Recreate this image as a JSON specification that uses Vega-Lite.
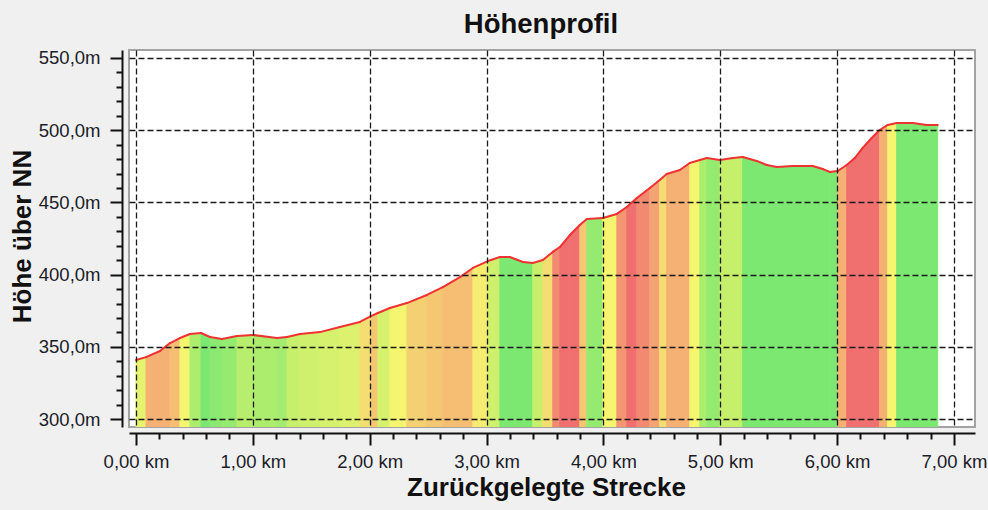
{
 "$schema": "https://vega.github.io/schema/vega-lite/v6.json",
 "width": 846, "height": 377,
 "autosize": {"type": "none"},
 "padding": {"left": 129, "top": 50, "right": 13, "bottom": 83},
 "background": "#f0f0f0",
 "title": {"text": "Höhenprofil", "anchor": "middle", "frame": "group", "font": "Liberation Sans", "fontSize": 27.5, "fontWeight": "bold", "color": "#111111", "dx": -11, "offset": 10},
 "config": {"view": {"fill": "white", "stroke": "#a3a3a3", "strokeWidth": 2}, "font": "Liberation Sans"},
 "data": {"values": [
  {"abschnitt":0,"km":0.000,"hoehe":340.9,"steigung":2.5},{"abschnitt":0,"km":0.086,"hoehe":342.9,"steigung":2.5},
  {"abschnitt":1,"km":0.086,"hoehe":342.9,"steigung":4.5},{"abschnitt":1,"km":0.205,"hoehe":347.1,"steigung":4.5},
  {"abschnitt":2,"km":0.205,"hoehe":347.1,"steigung":4.5},{"abschnitt":2,"km":0.291,"hoehe":352.6,"steigung":4.5},
  {"abschnitt":3,"km":0.291,"hoehe":352.6,"steigung":4.2},{"abschnitt":3,"km":0.376,"hoehe":356.1,"steigung":4.2},
  {"abschnitt":4,"km":0.376,"hoehe":356.1,"steigung":3.0},{"abschnitt":4,"km":0.462,"hoehe":358.9,"steigung":3.0},
  {"abschnitt":5,"km":0.462,"hoehe":358.9,"steigung":1.0},{"abschnitt":5,"km":0.556,"hoehe":359.6,"steigung":1.0},
  {"abschnitt":6,"km":0.556,"hoehe":359.6,"steigung":0},{"abschnitt":6,"km":0.633,"hoehe":356.8,"steigung":0},
  {"abschnitt":7,"km":0.633,"hoehe":356.8,"steigung":0.3},{"abschnitt":7,"km":0.736,"hoehe":355.4,"steigung":0.3},
  {"abschnitt":8,"km":0.736,"hoehe":355.4,"steigung":0.5},{"abschnitt":8,"km":0.864,"hoehe":357.5,"steigung":0.5},
  {"abschnitt":9,"km":0.864,"hoehe":357.5,"steigung":1.2},{"abschnitt":9,"km":1.001,"hoehe":358.2,"steigung":1.2},
  {"abschnitt":10,"km":1.001,"hoehe":358.2,"steigung":1.0},{"abschnitt":10,"km":1.206,"hoehe":356.1,"steigung":1.0},
  {"abschnitt":11,"km":1.206,"hoehe":356.1,"steigung":0.8},{"abschnitt":11,"km":1.292,"hoehe":356.8,"steigung":0.8},
  {"abschnitt":12,"km":1.292,"hoehe":356.8,"steigung":1.5},{"abschnitt":12,"km":1.403,"hoehe":358.9,"steigung":1.5},
  {"abschnitt":13,"km":1.403,"hoehe":358.9,"steigung":1.8},{"abschnitt":13,"km":1.574,"hoehe":360.2,"steigung":1.8},
  {"abschnitt":14,"km":1.574,"hoehe":360.2,"steigung":2.0},{"abschnitt":14,"km":1.745,"hoehe":363.7,"steigung":2.0},
  {"abschnitt":15,"km":1.745,"hoehe":363.7,"steigung":2.2},{"abschnitt":15,"km":1.916,"hoehe":367.2,"steigung":2.2},
  {"abschnitt":16,"km":1.916,"hoehe":367.2,"steigung":3.5},{"abschnitt":16,"km":2.010,"hoehe":371.3,"steigung":3.5},
  {"abschnitt":17,"km":2.010,"hoehe":371.3,"steigung":4.0},{"abschnitt":17,"km":2.070,"hoehe":373.4,"steigung":4.0},
  {"abschnitt":18,"km":2.070,"hoehe":373.4,"steigung":2.0},{"abschnitt":18,"km":2.173,"hoehe":376.9,"steigung":2.0},
  {"abschnitt":19,"km":2.173,"hoehe":376.9,"steigung":3.0},{"abschnitt":19,"km":2.318,"hoehe":380.3,"steigung":3.0},
  {"abschnitt":20,"km":2.318,"hoehe":380.3,"steigung":3.8},{"abschnitt":20,"km":2.489,"hoehe":385.9,"steigung":3.8},
  {"abschnitt":21,"km":2.489,"hoehe":385.9,"steigung":4.0},{"abschnitt":21,"km":2.626,"hoehe":391.4,"steigung":4.0},
  {"abschnitt":22,"km":2.626,"hoehe":391.4,"steigung":4.2},{"abschnitt":22,"km":2.772,"hoehe":398.3,"steigung":4.2},
  {"abschnitt":23,"km":2.772,"hoehe":398.3,"steigung":4.2},{"abschnitt":23,"km":2.883,"hoehe":404.6,"steigung":4.2},
  {"abschnitt":24,"km":2.883,"hoehe":404.6,"steigung":3.2},{"abschnitt":24,"km":3.011,"hoehe":409.4,"steigung":3.2},
  {"abschnitt":25,"km":3.011,"hoehe":409.4,"steigung":1.8},{"abschnitt":25,"km":3.114,"hoehe":412.2,"steigung":1.8},
  {"abschnitt":26,"km":3.114,"hoehe":412.2,"steigung":0},{"abschnitt":26,"km":3.199,"hoehe":412.2,"steigung":0},
  {"abschnitt":27,"km":3.199,"hoehe":412.2,"steigung":0},{"abschnitt":27,"km":3.311,"hoehe":408.7,"steigung":0},
  {"abschnitt":28,"km":3.311,"hoehe":408.7,"steigung":0},{"abschnitt":28,"km":3.396,"hoehe":408.0,"steigung":0},
  {"abschnitt":29,"km":3.396,"hoehe":408.0,"steigung":1.5},{"abschnitt":29,"km":3.482,"hoehe":410.1,"steigung":1.5},
  {"abschnitt":30,"km":3.482,"hoehe":410.1,"steigung":3.5},{"abschnitt":30,"km":3.567,"hoehe":415.7,"steigung":3.5},
  {"abschnitt":31,"km":3.567,"hoehe":415.7,"steigung":6},{"abschnitt":31,"km":3.627,"hoehe":419.1,"steigung":6},
  {"abschnitt":32,"km":3.627,"hoehe":419.1,"steigung":8},{"abschnitt":32,"km":3.713,"hoehe":427.4,"steigung":8},
  {"abschnitt":33,"km":3.713,"hoehe":427.4,"steigung":7.5},{"abschnitt":33,"km":3.798,"hoehe":434.3,"steigung":7.5},
  {"abschnitt":34,"km":3.798,"hoehe":434.3,"steigung":4},{"abschnitt":34,"km":3.858,"hoehe":438.5,"steigung":4},
  {"abschnitt":35,"km":3.858,"hoehe":438.5,"steigung":0.5},{"abschnitt":35,"km":3.995,"hoehe":439.2,"steigung":0.5},
  {"abschnitt":36,"km":3.995,"hoehe":439.2,"steigung":3.0},{"abschnitt":36,"km":4.115,"hoehe":442.0,"steigung":3.0},
  {"abschnitt":37,"km":4.115,"hoehe":442.0,"steigung":5.5},{"abschnitt":37,"km":4.200,"hoehe":446.8,"steigung":5.5},
  {"abschnitt":38,"km":4.200,"hoehe":446.8,"steigung":7},{"abschnitt":38,"km":4.286,"hoehe":453.0,"steigung":7},
  {"abschnitt":39,"km":4.286,"hoehe":453.0,"steigung":6},{"abschnitt":39,"km":4.397,"hoehe":460.0,"steigung":6},
  {"abschnitt":40,"km":4.397,"hoehe":460.0,"steigung":5},{"abschnitt":40,"km":4.482,"hoehe":465.5,"steigung":5},
  {"abschnitt":41,"km":4.482,"hoehe":465.5,"steigung":3.5},{"abschnitt":41,"km":4.542,"hoehe":469.7,"steigung":3.5},
  {"abschnitt":42,"km":4.542,"hoehe":469.7,"steigung":4.5},{"abschnitt":42,"km":4.654,"hoehe":472.4,"steigung":4.5},
  {"abschnitt":43,"km":4.654,"hoehe":472.4,"steigung":4.5},{"abschnitt":43,"km":4.739,"hoehe":477.3,"steigung":4.5},
  {"abschnitt":44,"km":4.739,"hoehe":477.3,"steigung":3.0},{"abschnitt":44,"km":4.825,"hoehe":479.4,"steigung":3.0},
  {"abschnitt":45,"km":4.825,"hoehe":479.4,"steigung":1.0},{"abschnitt":45,"km":4.885,"hoehe":480.7,"steigung":1.0},
  {"abschnitt":46,"km":4.885,"hoehe":480.7,"steigung":0.5},{"abschnitt":46,"km":4.996,"hoehe":479.4,"steigung":0.5},
  {"abschnitt":47,"km":4.996,"hoehe":479.4,"steigung":1.5},{"abschnitt":47,"km":5.107,"hoehe":480.7,"steigung":1.5},
  {"abschnitt":48,"km":5.107,"hoehe":480.7,"steigung":1.5},{"abschnitt":48,"km":5.192,"hoehe":481.4,"steigung":1.5},
  {"abschnitt":49,"km":5.192,"hoehe":481.4,"steigung":0},{"abschnitt":49,"km":5.312,"hoehe":478.7,"steigung":0},
  {"abschnitt":50,"km":5.312,"hoehe":478.7,"steigung":0},{"abschnitt":50,"km":5.398,"hoehe":475.9,"steigung":0},
  {"abschnitt":51,"km":5.398,"hoehe":475.9,"steigung":0},{"abschnitt":51,"km":5.483,"hoehe":474.5,"steigung":0},
  {"abschnitt":52,"km":5.483,"hoehe":474.5,"steigung":0},{"abschnitt":52,"km":5.620,"hoehe":475.2,"steigung":0},
  {"abschnitt":53,"km":5.620,"hoehe":475.2,"steigung":0},{"abschnitt":53,"km":5.791,"hoehe":475.2,"steigung":0},
  {"abschnitt":54,"km":5.791,"hoehe":475.2,"steigung":0},{"abschnitt":54,"km":5.877,"hoehe":473.1,"steigung":0},
  {"abschnitt":55,"km":5.877,"hoehe":473.1,"steigung":0},{"abschnitt":55,"km":5.937,"hoehe":471.1,"steigung":0},
  {"abschnitt":56,"km":5.937,"hoehe":471.1,"steigung":0},{"abschnitt":56,"km":6.005,"hoehe":471.7,"steigung":0},
  {"abschnitt":57,"km":6.005,"hoehe":471.7,"steigung":4.5},{"abschnitt":57,"km":6.082,"hoehe":475.9,"steigung":4.5},
  {"abschnitt":58,"km":6.082,"hoehe":475.9,"steigung":7},{"abschnitt":58,"km":6.151,"hoehe":480.7,"steigung":7},
  {"abschnitt":59,"km":6.151,"hoehe":480.7,"steigung":8},{"abschnitt":59,"km":6.219,"hoehe":487.7,"steigung":8},
  {"abschnitt":60,"km":6.219,"hoehe":487.7,"steigung":8},{"abschnitt":60,"km":6.296,"hoehe":494.6,"steigung":8},
  {"abschnitt":61,"km":6.296,"hoehe":494.6,"steigung":7},{"abschnitt":61,"km":6.364,"hoehe":500.1,"steigung":7},
  {"abschnitt":62,"km":6.364,"hoehe":500.1,"steigung":4.5},{"abschnitt":62,"km":6.433,"hoehe":503.6,"steigung":4.5},
  {"abschnitt":63,"km":6.433,"hoehe":503.6,"steigung":3},{"abschnitt":63,"km":6.510,"hoehe":505.0,"steigung":3},
  {"abschnitt":64,"km":6.510,"hoehe":505.0,"steigung":0},{"abschnitt":64,"km":6.647,"hoehe":505.0,"steigung":0},
  {"abschnitt":65,"km":6.647,"hoehe":505.0,"steigung":0},{"abschnitt":65,"km":6.767,"hoehe":503.6,"steigung":0},
  {"abschnitt":66,"km":6.767,"hoehe":503.6,"steigung":0},{"abschnitt":66,"km":6.861,"hoehe":503.6,"steigung":0}
 ]},
 "resolve": {"axis": {"x": "independent", "y": "independent"}},
 "layer": [
  {
   "mark": {"type": "area", "interpolate": "linear", "strokeWidth": 1, "clip": true},
   "encoding": {
    "x": {"field": "km", "type": "quantitative",
     "scale": {"domain": [-0.06, 7.18], "nice": false, "zero": false},
     "axis": {"orient": "bottom", "values": [0, 1, 2, 3, 4, 5, 6, 7], "grid": true, "gridColor": "#1a1a1a", "gridDash": [6, 3], "gridWidth": 1.3,
      "domainColor": "#111111", "domainWidth": 2, "tickColor": "#111111", "tickWidth": 2, "tickSize": 12, "offset": 6,
      "labelPadding": 7, "labelFont": "Liberation Sans", "labelFontSize": 18.5, "labelColor": "#1c1c28", "labelFlush": false, "labelOverlap": false,
      "labelExpr": "replace(format(datum.value, '.2f'), '.', ',') + ' km'",
      "title": "Zurückgelegte Strecke", "titleFont": "Liberation Sans", "titleFontSize": 26, "titleFontWeight": "bold", "titleColor": "#111111",
      "titleX": 417, "titleY": 62, "titleBaseline": "alphabetic", "titleAlign": "center", "zindex": 1}},
    "y": {"field": "hoehe", "type": "quantitative",
     "scale": {"domain": [294.5, 555.5], "nice": false, "zero": false},
     "axis": {"orient": "left", "values": [300, 350, 400, 450, 500, 550], "grid": true, "gridColor": "#1a1a1a", "gridDash": [6, 3], "gridWidth": 1.3,
      "domainColor": "#111111", "domainWidth": 2, "tickColor": "#111111", "tickWidth": 2, "tickSize": 12, "offset": 7,
      "labelPadding": 10, "labelFont": "Liberation Sans", "labelFontSize": 18.5, "labelColor": "#1c1c28",
      "labelExpr": "replace(format(datum.value, '.1f'), '.', ',') + 'm'",
      "title": "Höhe über NN", "titleFont": "Liberation Sans", "titleFontSize": 26, "titleFontWeight": "bold", "titleColor": "#111111",
      "titleX": -100, "titleY": 186, "titleBaseline": "middle", "titleAlign": "center", "titleAngle": -90, "zindex": 1}},
    "y2": {"datum": 294.5},
    "detail": {"field": "abschnitt", "type": "nominal"},
    "color": {"field": "steigung", "type": "quantitative", "legend": null,
     "scale": {"domain": [0, 1.5, 3, 4.5, 7], "range": ["#7ce872", "#c6ef6c", "#f5f570", "#f5b074", "#f07070"], "interpolate": "rgb", "clamp": true}},
    "stroke": {"field": "steigung", "type": "quantitative", "legend": null,
     "scale": {"domain": [0, 1.5, 3, 4.5, 7], "range": ["#7ce872", "#c6ef6c", "#f5f570", "#f5b074", "#f07070"], "interpolate": "rgb", "clamp": true}}
   }
  },
  {
   "mark": {"type": "line", "color": "#f03232", "strokeWidth": 2, "strokeCap": "round", "clip": true},
   "encoding": {
    "x": {"field": "km", "type": "quantitative",
     "axis": {"orient": "bottom", "values": [0.2, 0.4, 0.6, 0.8, 1.2, 1.4, 1.6, 1.8, 2.2, 2.4, 2.6, 2.8, 3.2, 3.4, 3.6, 3.8, 4.2, 4.4, 4.6, 4.8, 5.2, 5.4, 5.6, 5.8, 6.2, 6.4, 6.6, 6.8],
      "grid": false, "labels": false, "domain": false, "tickColor": "#111111", "tickWidth": 2, "tickSize": 6, "offset": 6, "title": null}},
    "y": {"field": "hoehe", "type": "quantitative",
     "axis": {"orient": "left", "values": [310, 320, 330, 340, 360, 370, 380, 390, 410, 420, 430, 440, 460, 470, 480, 490, 510, 520, 530, 540],
      "grid": false, "labels": false, "domain": false, "tickColor": "#111111", "tickWidth": 2, "tickSize": 6, "offset": 7, "title": null}},
    "detail": {"field": "abschnitt", "type": "nominal"}
   }
  }
 ]
}
